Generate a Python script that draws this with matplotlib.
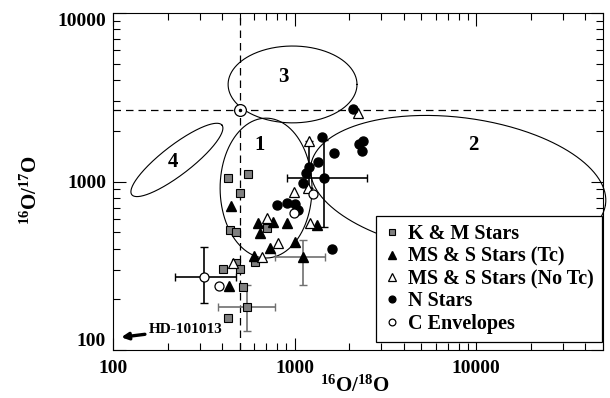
#Imports
import numpy as np
import matplotlib.pyplot as plt

plt.rcParams['font.family'] = 'Liberation Serif'
plt.rcParams['font.weight'] = 'bold'
plt.rcParams['mathtext.fontset'] = 'custom'
plt.rcParams['mathtext.rm'] = 'Liberation Serif:bold'
plt.rcParams['mathtext.bf'] = 'Liberation Serif:bold'

#Data (16O/18O, 16O/17O)
km_x = [430, 554, 501, 441, 476, 706, 606, 404, 476, 501, 520, 547, 430]
km_y = [1049, 1108, 855, 516, 502, 530, 333, 302, 328, 302, 237, 180, 155]

tc_x = [447, 629, 761, 645, 909, 1330, 1006, 733, 598, 1114, 436]
tc_y = [715, 567, 575, 495, 567, 552, 437, 403, 361, 356, 240]

notc_x = [1202, 994, 1186, 706, 1217, 811, 662, 458, 2238]
notc_y = [1740, 867, 915, 607, 567, 431, 356, 328, 2551]

n_x = [2100, 1418, 2385, 2266, 2355, 1651, 1348, 1202, 1157, 1454, 1114, 801, 909, 1006, 1045, 1609]
n_y = [2694, 1837, 1740, 1669, 1517, 1476, 1305, 1219, 1123, 1049, 980, 725, 745, 735, 677, 398]

c_x = [1265, 994, 317, 384]
c_y = [843, 650, 271, 240]

#Error bars: (x, y, xlo, xhi, ylo, yhi)
km_err = (547, 180, 379, 781, 130, 243)
tc_err = (1114, 356, 781, 1472, 243, 449)
n_err = (1454, 1049, 909, 2508, 537, 1763)
c_err = (317, 271, 220, 476, 190, 409)
notc_err = (1202, 1740, 1202, 1202, 915, 1740)

#Solar values
sun_x, sun_y = 500, 2660

#Regions: (label, log10 centre x, log10 centre y, semi-axis a, semi-axis b, angle deg, label x, label y)
regions = [
    ('1', 2.843, 2.961, 0.253, 0.415, 0, 645, 1647),
    ('2', 3.901, 2.979, 0.82, 0.40, -8.3, 9620, 1647),
    ('3', 2.989, 3.576, 0.355, 0.228, 0, 864, 4169),
    ('4', 2.352, 3.128, 0.323, 0.085, 40, 214, 1305),
]

fig = plt.figure(figsize=(6.1, 3.98), dpi=100)
ax = fig.add_axes([113/610, 48/398, 490/610, 337/398])
ax.set_xscale('log')
ax.set_yscale('log')
ax.set_xlim(100, 50000)
ax.set_ylim(100, 10000)

#Ellipses drawn in log space
t = np.linspace(0, 2*np.pi, 400)
for lab, cx, cy, a, b, ang, lx, ly in regions:
    th = np.radians(ang)
    ex = cx + a*np.cos(t)*np.cos(th) - b*np.sin(t)*np.sin(th)
    ey = cy + a*np.cos(t)*np.sin(th) + b*np.sin(t)*np.cos(th)
    ax.plot(10**ex, 10**ey, color='k', lw=0.8, zorder=2, clip_on=(lab != '2'))
    ax.text(lx, ly, lab, fontsize=15, fontweight='bold', ha='center', va='center')

#Solar reference lines
ax.axvline(sun_x, color='k', lw=0.9, ls=(0, (6, 4)), zorder=1)
ax.axhline(sun_y, color='k', lw=0.9, ls=(0, (6, 4)), zorder=1)

#Error bars
def errbar(e, color):
    x, y, xlo, xhi, ylo, yhi = e
    ax.errorbar([x], [y], xerr=[[x-xlo], [xhi-x]], yerr=[[y-ylo], [yhi-y]],
                fmt='none', ecolor=color, elinewidth=1.2, capsize=3, zorder=3)

errbar(km_err, '#707070')
errbar(tc_err, '#707070')
errbar(n_err, 'k')
errbar(c_err, 'k')
errbar(notc_err, 'k')

ax.plot(km_x, km_y, 's', ms=6, mfc='#808080', mec='k', mew=0.8, ls='none', zorder=4, label='K & M Stars')
ax.plot(tc_x, tc_y, '^', ms=7.5, mfc='k', mec='k', ls='none', zorder=4, label='MS & S Stars (Tc)')
ax.plot(notc_x, notc_y, '^', ms=7.5, mfc='white', mec='k', mew=0.9, ls='none', zorder=4, label='MS & S Stars (No Tc)')
ax.plot(n_x, n_y, 'o', ms=6.5, mfc='k', mec='k', ls='none', zorder=4, label='N Stars')
ax.plot(c_x, c_y, 'o', ms=6.5, mfc='white', mec='k', mew=0.9, ls='none', zorder=4, label='C Envelopes')

#Sun symbol
ax.plot(sun_x, sun_y, 'o', ms=8.5, mfc='white', mec='k', mew=0.9, zorder=4)
ax.plot(sun_x, sun_y, 'o', ms=1.5, color='k', zorder=5)

#HD-101013 arrow
ax.annotate('HD-101013', xy=(111, 119), xytext=(158, 133), fontsize=11, fontweight='bold',
            va='center', ha='left',
            arrowprops=dict(arrowstyle='-|>', color='k', lw=2.4, mutation_scale=10, shrinkA=1, shrinkB=0))

#Axes styling
ax.set_xticks([100, 1000, 10000])
ax.set_xticklabels(['100', '1000', '10000'])
ax.set_yticks([100, 1000, 10000])
ax.set_yticklabels(['100', '1000', '10000'])
ax.xaxis.set_minor_formatter(plt.NullFormatter())
ax.yaxis.set_minor_formatter(plt.NullFormatter())
ax.tick_params(which='both', direction='in', top=True, right=True, width=0.8, labelsize=14)
ax.tick_params(which='major', length=9)
ax.tick_params(which='minor', length=5)
ax.tick_params(axis='x', pad=7)
ax.tick_params(axis='y', pad=5)
for lab in ax.get_xticklabels() + ax.get_yticklabels():
    lab.set_fontweight('bold')
ylabs = ax.get_yticklabels()
ylabs[0].set_verticalalignment('bottom')
ylabs[-1].set_verticalalignment('top')

ax.set_xlabel(r'$\mathbf{^{16}O/^{18}O}$', fontsize=15)
ax.set_ylabel(r'$\mathbf{^{16}O/^{17}O}$', fontsize=15)
ax.xaxis.set_label_coords(0.494, -0.075)
ax.yaxis.set_label_coords(-0.145, 0.475)

leg = ax.legend(loc='lower right', bbox_to_anchor=(0.998, 0.024), borderaxespad=0,
                prop={'family': 'Liberation Serif', 'weight': 'bold', 'size': 14.5},
                markerscale=0.75, handlelength=0.8, handletextpad=0.4, labelspacing=0.12,
                borderpad=0.4, frameon=True, fancybox=False, edgecolor='k', framealpha=1)
leg.get_frame().set_linewidth(0.9)
leg.set_zorder(6)

plt.savefig('out.png', dpi=100)
